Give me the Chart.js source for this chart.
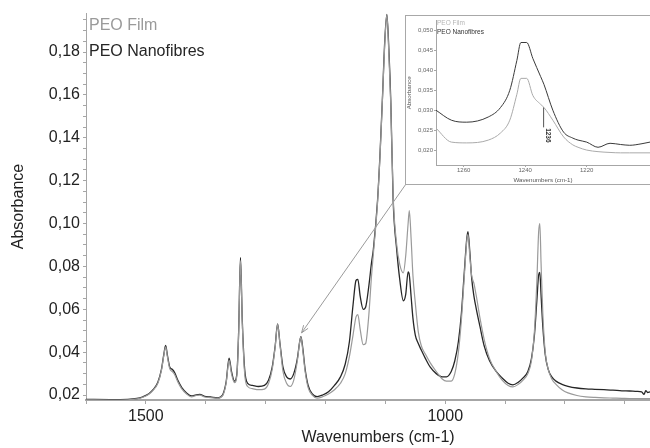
<!DOCTYPE html>
<html>
<head>
<meta charset="utf-8">
<script src="https://cdn.jsdelivr.net/npm/chart.js@4.4.0/dist/chart.umd.min.js"></script>
<style>
  html, body { margin: 0; padding: 0; background: #fff; overflow: hidden; }
  #wrap { position: relative; width: 650px; height: 448px; }
  #main { position: absolute; left: 0; top: 0; }
  #inset { position: absolute; left: 405px; top: 15px; width: 260px; height: 168px;
           border: 1px solid #a8a8a8; background: #fff; }
  #insetCanvas { position: absolute; left: 0; top: 0; }
</style>
</head>
<body>
<div id="wrap">
  <canvas id="main" width="650" height="448"></canvas>
  <div id="inset"><canvas id="insetCanvas" width="250" height="168"></canvas></div>
</div>
<script>
// Main spectrum
const wavenumbers = [
  1600, 1560, 1530, 1515, 1505, 1495, 1488, 1480, 1474, 1470, 1467, 1464, 1460, 1456, 1452, 1446,
  1440, 1432, 1424, 1416, 1410, 1402, 1392, 1380, 1372, 1366, 1361, 1357, 1352, 1348, 1345, 1342,
  1339, 1335, 1330, 1322, 1312, 1302, 1295, 1289, 1284, 1280, 1276, 1271, 1265, 1259, 1253, 1247,
  1243, 1241, 1238, 1234, 1229, 1222, 1214, 1205, 1195, 1185, 1175, 1167, 1160, 1154, 1149, 1146,
  1142, 1137, 1133, 1128, 1123, 1120, 1113, 1109, 1105, 1101, 1097.5, 1094, 1091, 1087, 1081, 1076,
  1070, 1066, 1062, 1060, 1057, 1054, 1050, 1045, 1040, 1033, 1025, 1015, 1005, 998, 990,
  984, 978, 973, 968, 964, 962, 959, 956, 952, 948, 942, 935, 926, 915, 905, 895,
  887, 878, 870, 862, 856, 851, 847, 844, 842, 840, 837, 833, 828, 822, 815, 805,
  795, 780, 765, 750, 735, 720, 705, 692, 680, 672, 668, 665, 662, 658
];
const nanofibres = [
  0.0180, 0.0179, 0.0180, 0.0184, 0.0192, 0.0206, 0.0225, 0.0260, 0.0320, 0.0390, 0.0432, 0.0385, 0.0330, 0.0320, 0.0305, 0.0265,
  0.0235, 0.0210, 0.0196, 0.0201, 0.0203, 0.0194, 0.0191, 0.0187, 0.0200, 0.0260, 0.0372, 0.0310, 0.0265, 0.0300, 0.0500, 0.0842,
  0.0550, 0.0320, 0.0255, 0.0245, 0.0240, 0.0245, 0.0270, 0.0330, 0.0430, 0.0532, 0.0440, 0.0330, 0.0285, 0.0275, 0.0300, 0.0370,
  0.0450, 0.0472, 0.0420, 0.0320, 0.0245, 0.0205, 0.0193, 0.0200, 0.0215, 0.0245, 0.0285, 0.0345, 0.0450, 0.0620, 0.0735, 0.0740,
  0.0660, 0.0600, 0.0610, 0.0700, 0.0820, 0.0880, 0.1110, 0.1320, 0.1576, 0.1850, 0.1975, 0.1800, 0.1576, 0.1110, 0.0877, 0.0740,
  0.0640, 0.0670, 0.0774, 0.0760, 0.0660, 0.0560, 0.0480, 0.0440, 0.0410, 0.0370, 0.0330, 0.0300, 0.0285, 0.0285, 0.0310,
  0.0360, 0.0450, 0.0580, 0.0780, 0.0930, 0.0962, 0.0870, 0.0750, 0.0660, 0.0600, 0.0520, 0.0430, 0.0360, 0.0310, 0.0280, 0.0255,
  0.0248, 0.0260, 0.0280, 0.0310, 0.0370, 0.0480, 0.0640, 0.0760, 0.0772, 0.0670, 0.0520, 0.0390, 0.0320, 0.0285, 0.0265, 0.0250,
  0.0241, 0.0233, 0.0229, 0.0227, 0.0225, 0.0223, 0.0220, 0.0219, 0.0217, 0.0215, 0.0203, 0.0221, 0.0212, 0.0215
];
const film = [
  0.0178, 0.0177, 0.0178, 0.0182, 0.0190, 0.0204, 0.0222, 0.0255, 0.0315, 0.0385, 0.0425, 0.0378, 0.0322, 0.0310, 0.0296, 0.0258,
  0.0229, 0.0205, 0.0192, 0.0198, 0.0200, 0.0191, 0.0188, 0.0185, 0.0196, 0.0255, 0.0362, 0.0300, 0.0258, 0.0292, 0.0490, 0.0828,
  0.0540, 0.0300, 0.0240, 0.0230, 0.0225, 0.0228, 0.0255, 0.0320, 0.0425, 0.0530, 0.0435, 0.0310, 0.0255, 0.0240, 0.0270, 0.0360,
  0.0450, 0.0470, 0.0410, 0.0310, 0.0235, 0.0200, 0.0186, 0.0192, 0.0205, 0.0225, 0.0255, 0.0300, 0.0380, 0.0480, 0.0565, 0.0575,
  0.0505, 0.0435, 0.0440, 0.0560, 0.0760, 0.0860, 0.1100, 0.1310, 0.1570, 0.1840, 0.1975, 0.1780, 0.1560, 0.1130, 0.0900, 0.0810,
  0.0770, 0.0850, 0.1000, 0.1060, 0.0930, 0.0760, 0.0630, 0.0495, 0.0430, 0.0390, 0.0350, 0.0310, 0.0275, 0.0265, 0.0265,
  0.0300, 0.0400, 0.0550, 0.0760, 0.0920, 0.0950, 0.0850, 0.0760, 0.0720, 0.0660, 0.0560, 0.0460, 0.0370, 0.0310, 0.0270, 0.0245,
  0.0238, 0.0250, 0.0270, 0.0300, 0.0360, 0.0500, 0.0730, 0.0960, 0.1000, 0.0820, 0.0580, 0.0400, 0.0320, 0.0275, 0.0250, 0.0225,
  0.0210, 0.0198, 0.0192, 0.0189, 0.0187, 0.0186, 0.0185, 0.0184, 0.0184, 0.0183, 0.0183, 0.0183, 0.0183, 0.0183
];
const xTicks = [1600, 1500, 1400, 1300, 1200, 1100, 1000, 900, 800, 700];
const xLabels = [1500, 1000];
const yLabels = [0.02, 0.04, 0.06, 0.08, 0.10, 0.12, 0.14, 0.16, 0.18];

// Inset: zoom on the 1240 band
const insetWavenumbers = [1269, 1264, 1259, 1252, 1248, 1245, 1242.7, 1241.4, 1239.5, 1237.5, 1235, 1233.9,
  1231, 1227.5, 1224.5, 1222.8, 1220, 1216.3, 1212.4, 1209, 1206, 1202, 1199.4];
const insetNanofibres = [0.0300, 0.0275, 0.0270, 0.0283, 0.0307, 0.0350, 0.0425, 0.0470, 0.0470, 0.0430, 0.0385, 0.0365,
  0.0300, 0.0245, 0.0230, 0.0225, 0.0220, 0.0207, 0.0217, 0.0214, 0.0212, 0.0216, 0.0220];
const insetFilm = [0.0255, 0.0220, 0.0218, 0.0225, 0.0243, 0.0275, 0.0340, 0.0380, 0.0380, 0.0337, 0.0315, 0.0307,
  0.0275, 0.0233, 0.0213, 0.0207, 0.0200, 0.0196, 0.0194, 0.0193, 0.0193, 0.0193, 0.0193];
const insetXLabels = [1260, 1240, 1220];
const insetYLabels = [0.020, 0.025, 0.030, 0.035, 0.040, 0.045, 0.050];
const peakMark = { wn: 1234, top: 0.0307, bottom: 0.0257, label: "1236" };
const arrowTarget = { wn: 1240, abs: 0.049 };

const FONT = '"Liberation Sans", Arial, sans-serif';
const filmColor = "#9a9a9a";
const nanoColor = "#262626";
const axisColor = "#a6a6a6";

const toXY = (xs, ys) => xs.map((x, i) => ({ x: x, y: ys[i] }));
const comma = (v, d) => v.toFixed(d).replace(".", ",");
const isIn = (list, v) => list.some((l) => Math.abs(l - v) < 1e-9);

function lineSet(label, xs, ys, color, width) {
  return {
    label: label,
    data: toXY(xs, ys),
    borderColor: color,
    borderWidth: width,
    pointRadius: 0,
    cubicInterpolationMode: "monotone",
    fill: false,
  };
}

// minor y ticks every 0.005 between the labelled ones
const yTicks = [];
for (let v = 0.02; v < 0.198; v += 0.005) yTicks.push(Math.round(v * 1000) / 1000);

// legend, x title and arrow on the main chart
const mainDecor = {
  id: "mainDecor",
  afterDraw(chart) {
    const { ctx, chartArea, scales } = chart;
    ctx.save();
    ctx.font = "16px " + FONT;
    ctx.textBaseline = "middle";
    ctx.textAlign = "left";
    ctx.fillStyle = filmColor;
    ctx.fillText("PEO Film", chartArea.left + 3, 26);
    ctx.fillStyle = nanoColor;
    ctx.fillText("PEO Nanofibres", chartArea.left + 3, 52);

    ctx.textAlign = "center";
    ctx.fillStyle = "#222";
    ctx.fillText("Wavenumbers (cm-1)", (chartArea.left + chartArea.right) / 2 + 10, 438);

    // arrow from the inset corner to the band
    const inset = document.getElementById("inset");
    const x0 = inset.offsetLeft + 1;
    const y0 = inset.offsetTop + inset.offsetHeight - 1;
    const x1 = scales.x.getPixelForValue(arrowTarget.wn);
    const y1 = scales.y.getPixelForValue(arrowTarget.abs);
    const a = Math.atan2(y1 - y0, x1 - x0);
    ctx.strokeStyle = "#9a9a9a";
    ctx.lineWidth = 1;
    ctx.beginPath();
    ctx.moveTo(x0, y0);
    ctx.lineTo(x1, y1);
    ctx.moveTo(x1 - 8 * Math.cos(a - 0.35), y1 - 8 * Math.sin(a - 0.35));
    ctx.lineTo(x1, y1);
    ctx.lineTo(x1 - 8 * Math.cos(a + 0.35), y1 - 8 * Math.sin(a + 0.35));
    ctx.stroke();
    ctx.restore();
  },
};

new Chart(document.getElementById("main"), {
  type: "line",
  data: {
    datasets: [
      lineSet("PEO Film", wavenumbers, film, filmColor, 1.2),
      lineSet("PEO Nanofibres", wavenumbers, nanofibres, nanoColor, 1.3),
    ],
  },
  options: {
    responsive: false,
    animation: false,
    layout: { padding: { top: 13, right: 0, bottom: 0, left: 0 } },
    plugins: { legend: { display: false }, tooltip: { enabled: false } },
    scales: {
      x: {
        type: "linear",
        reverse: true,
        min: 658,
        max: 1600,
        afterBuildTicks: (s) => { s.ticks = xTicks.map((v) => ({ value: v })); },
        afterFit: (s) => { s.height = 48; },
        grid: { drawOnChartArea: false, tickLength: 4, color: axisColor },
        border: { color: axisColor, width: 2 },
        ticks: {
          autoSkip: false,
          maxRotation: 0,
          color: "#222",
          font: { family: FONT, size: 16 },
          callback: (v) => (isIn(xLabels, v) ? String(v) : ""),
        },
      },
      y: {
        type: "linear",
        min: 0.0177,
        max: 0.1982,
        afterBuildTicks: (s) => { s.ticks = yTicks.map((v) => ({ value: v })); },
        afterFit: (s) => { s.width = 86; },
        grid: { drawOnChartArea: false, tickLength: 3, color: axisColor },
        border: { color: axisColor, width: 1 },
        ticks: {
          autoSkip: false,
          color: "#222",
          padding: 3,
          font: { family: FONT, size: 16 },
          callback: (v) => (isIn(yLabels, v) ? comma(v, 2) : ""),
        },
        title: {
          display: true,
          text: "Absorbance",
          color: "#222",
          font: { family: FONT, size: 16 },
          padding: { top: 9, bottom: 0 },
        },
      },
    },
  },
  plugins: [mainDecor],
});

// legend and peak label in the inset
const insetDecor = {
  id: "insetDecor",
  afterDraw(chart) {
    const { ctx, chartArea, scales } = chart;
    ctx.save();
    ctx.font = "6.5px " + FONT;
    ctx.textBaseline = "middle";
    ctx.fillStyle = "#b4b4b4";
    ctx.fillText("PEO Film", chartArea.left + 1, 7);
    ctx.fillStyle = "#333";
    ctx.fillText("PEO Nanofibres", chartArea.left + 1, 16);

    const px = scales.x.getPixelForValue(peakMark.wn);
    const yTop = scales.y.getPixelForValue(peakMark.top);
    const yBot = scales.y.getPixelForValue(peakMark.bottom);
    ctx.strokeStyle = "#555";
    ctx.lineWidth = 1;
    ctx.beginPath();
    ctx.moveTo(px, yTop);
    ctx.lineTo(px, yBot);
    ctx.stroke();
    ctx.translate(px + 4, yBot + 8);
    ctx.rotate(Math.PI / 2);
    ctx.textAlign = "center";
    ctx.fillStyle = "#333";
    ctx.font = "bold 6.5px " + FONT;
    ctx.fillText(peakMark.label, 0, 0);
    ctx.restore();
  },
};

new Chart(document.getElementById("insetCanvas"), {
  type: "line",
  data: {
    datasets: [
      lineSet("PEO Film", insetWavenumbers, insetFilm, "#aaaaaa", 1),
      lineSet("PEO Nanofibres", insetWavenumbers, insetNanofibres, "#3a3a3a", 1),
    ],
  },
  options: {
    responsive: false,
    animation: false,
    layout: { padding: { top: 4, right: 6, bottom: 0, left: 0 } },
    plugins: { legend: { display: false }, tooltip: { enabled: false } },
    scales: {
      x: {
        type: "linear",
        reverse: true,
        min: 1199.4,
        max: 1269,
        afterBuildTicks: (s) => { s.ticks = insetXLabels.map((v) => ({ value: v })); },
        afterFit: (s) => { s.height = 19; },
        grid: { drawOnChartArea: false, tickLength: 2, color: axisColor },
        border: { color: axisColor, width: 1 },
        ticks: {
          autoSkip: false,
          maxRotation: 0,
          padding: 0,
          color: "#666",
          font: { family: FONT, size: 6 },
          callback: (v) => String(v),
        },
        title: {
          display: true,
          text: "Wavenumbers (cm-1)",
          color: "#555",
          font: { family: FONT, size: 6.2 },
          padding: { top: 0, bottom: 0 },
        },
      },
      y: {
        type: "linear",
        min: 0.01625,
        max: 0.0525,
        afterBuildTicks: (s) => { s.ticks = insetYLabels.map((v) => ({ value: v })); },
        afterFit: (s) => { s.width = 30; },
        grid: { drawOnChartArea: false, tickLength: 2, color: axisColor },
        border: { color: axisColor, width: 1 },
        ticks: {
          autoSkip: false,
          padding: 1,
          color: "#666",
          font: { family: FONT, size: 6 },
          callback: (v) => comma(v, 3),
        },
        title: {
          display: true,
          text: "Absorbance",
          color: "#555",
          font: { family: FONT, size: 6.2 },
          padding: { top: 0, bottom: 0 },
        },
      },
    },
  },
  plugins: [insetDecor],
});
</script>
</body>
</html>
